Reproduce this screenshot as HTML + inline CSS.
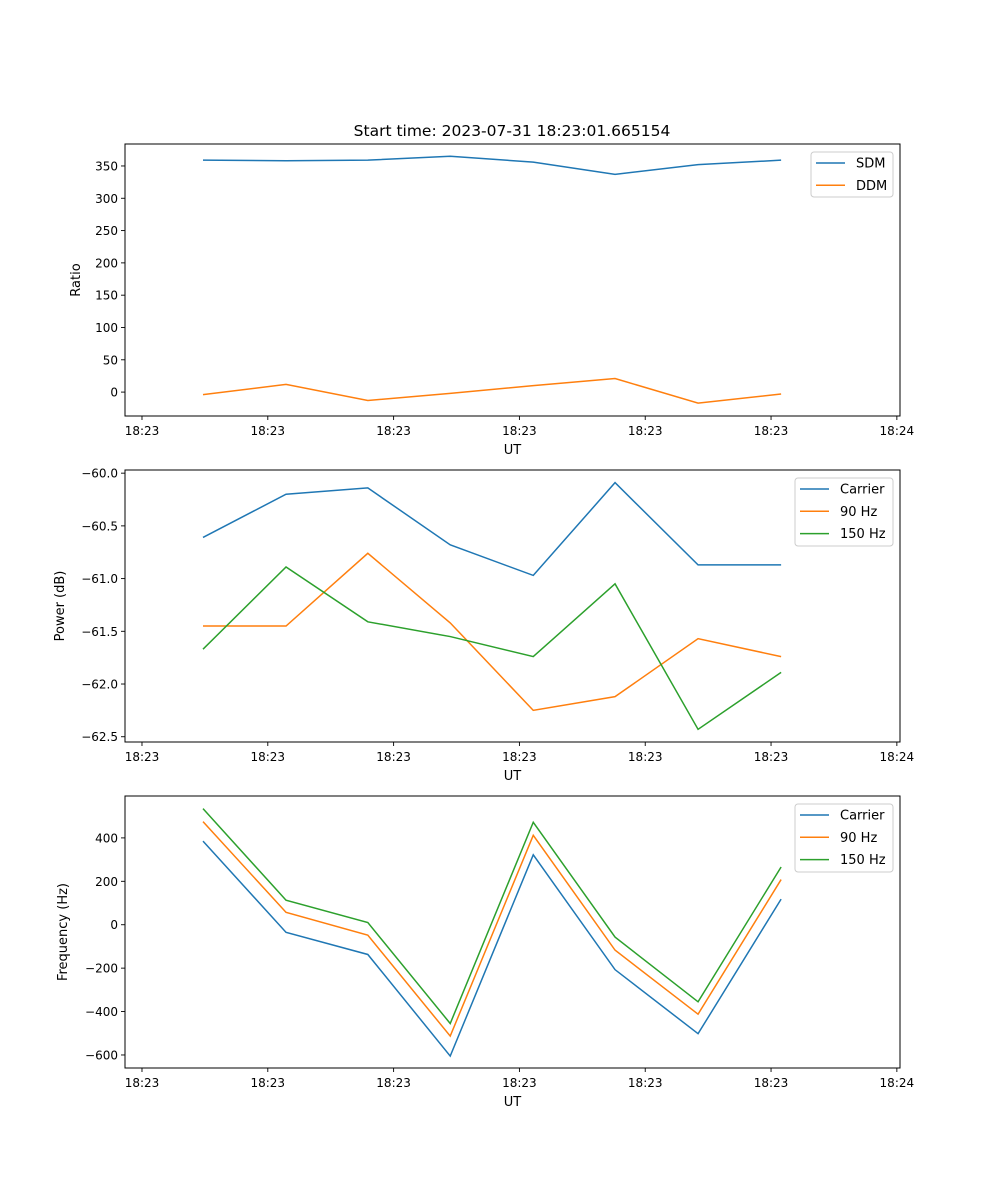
<!DOCTYPE html>
<html><head><meta charset="utf-8">
<style>
html,body{margin:0;padding:0;background:#fff;}
svg{display:block;font-family:"DejaVu Sans","Liberation Sans",sans-serif;}
</style></head>
<body>
<svg id="chart" width="1000" height="1200" viewBox="0 0 1000 1200" xmlns="http://www.w3.org/2000/svg">
<text x="512" y="136" font-size="15.5" text-anchor="middle">Start time: 2023-07-31 18:23:01.665154</text>
</svg>
<script>
// x data (seconds after start), shared by all panels
const times = [0.97, 2.29, 3.59, 4.90, 6.22, 7.52, 8.84, 10.16];
const xTickVals = [0, 2, 4, 6, 8, 10, 12];
const xTickLabels = ["18:23","18:23","18:23","18:23","18:23","18:23","18:24"];

const sdm = [359, 358, 359, 365, 356, 337, 352, 359];
const ddm = [-4, 12, -13, -2, 10, 21, -17, -3];
const ratioTicks = [0, 50, 100, 150, 200, 250, 300, 350];

const powCarrier = [-60.61, -60.20, -60.14, -60.68, -60.97, -60.09, -60.87, -60.87];
const pow90 = [-61.45, -61.45, -60.76, -61.42, -62.25, -62.12, -61.57, -61.74];
const pow150 = [-61.67, -60.89, -61.41, -61.55, -61.74, -61.05, -62.43, -61.89];
const powTicks = [-60.0, -60.5, -61.0, -61.5, -62.0, -62.5];

const freqCarrier = [385, -35, -137, -605, 322, -207, -502, 118];
const freq90 = [475, 57, -48, -513, 412, -117, -412, 208];
const freq150 = [535, 113, 10, -455, 472, -57, -355, 266];
const freqTicks = [-600, -400, -200, 0, 200, 400];

const NS = "http://www.w3.org/2000/svg";
const svg = document.getElementById("chart");
const L = 125, R = 900;
const xMin = -0.27, xMax = 12.05;
function xs(v){ return L + (v - xMin) / (xMax - xMin) * (R - L); }

function el(tag, attrs, parent){
  const e = document.createElementNS(NS, tag);
  for (const k in attrs) e.setAttribute(k, attrs[k]);
  (parent || svg).appendChild(e);
  return e;
}

function panel(cfg){
  const g = el("g", {});
  
  
  const T = cfg.top, B = cfg.bottom;
  const ys = v => B - (v - cfg.yMin) / (cfg.yMax - cfg.yMin) * (B - T);
  // series
  cfg.series.forEach(s => {
    const pts = times.map((t, i) => xs(t).toFixed(2) + "," + ys(s.values[i]).toFixed(2)).join(" ");
    const p = el("polyline", {points: pts, fill: "none", stroke: s.color, "stroke-width": 1.5}, g);
    
    
  });
  // frame
  const f = el("rect", {x: L, y: T, width: R - L, height: B - T, fill: "none", stroke: "#000", "stroke-width": 1}, g);
  
  
  // x ticks
  xTickVals.forEach((v, i) => {
    const x = xs(v);
    el("line", {x1: x, x2: x, y1: B, y2: B + 4, stroke: "#000", "stroke-width": 0.9}, g);
    const t = el("text", {x: x, y: B + 19, "font-size": 12, "text-anchor": "middle"}, g);
    t.textContent = xTickLabels[i];
    
    
  });
  const xl = el("text", {x: (L + R) / 2, y: B + 38, "font-size": 13, "text-anchor": "middle"}, g);
  xl.textContent = "UT";
  
  
  // y ticks
  cfg.ticks.forEach(v => {
    const y = ys(v);
    el("line", {x1: L - 4, x2: L, y1: y, y2: y, stroke: "#000", "stroke-width": 0.9}, g);
    const t = el("text", {x: L - 7, y: y + 4.5, "font-size": 12, "text-anchor": "end"}, g);
    t.textContent = cfg.fmt(v);
    
    
  });
  const yl = el("text", {x: cfg.ylx, y: (T + B) / 2, "font-size": 13, "text-anchor": "middle", transform: `rotate(-90 ${cfg.ylx} ${(T + B) / 2})`}, g);
  yl.textContent = cfg.ylabel;
  
  
  // legend
  const lg = el("g", {}, g);
  
  
  const n = cfg.series.length;
  const lx = cfg.legX, ly = T + 8, lw = R - 7 - lx, lh = 23 * n - 1;
  el("rect", {x: lx, y: ly, width: lw, height: lh, rx: 3, fill: "#fff", "fill-opacity": 0.8, stroke: "#ccc", "stroke-width": 1}, lg);
  cfg.series.forEach((s, i) => {
    const yy = ly + 11 + i * 22.3;
    const e = el("g", {}, lg);
    
    
    el("line", {x1: lx + 5, x2: lx + 34, y1: yy, y2: yy, stroke: s.color, "stroke-width": 1.5}, e);
    const t = el("text", {x: lx + 45, y: yy + 4.5, "font-size": 13}, e);
    t.textContent = s.label;
  });
}

const C0 = "#1f77b4", C1 = "#ff7f0e", C2 = "#2ca02c";
panel({name: "ratio-panel", top: 144, bottom: 416, yMin: -37, yMax: 384, ticks: ratioTicks, fmt: v => String(v),
  ylabel: "Ratio", ylx: 80, legX: 811,
  series: [{id: "sdm", label: "SDM", color: C0, values: sdm}, {id: "ddm", label: "DDM", color: C1, values: ddm}]});
panel({name: "power-panel", top: 470, bottom: 742, yMin: -62.55, yMax: -59.97, ticks: powTicks, fmt: v => v.toFixed(1).replace("-", "\u2212"),
  ylabel: "Power (dB)", ylx: 64, legX: 795,
  series: [{id: "carrier", label: "Carrier", color: C0, values: powCarrier}, {id: "hz90", label: "90 Hz", color: C1, values: pow90}, {id: "hz150", label: "150 Hz", color: C2, values: pow150}]});
panel({name: "frequency-panel", top: 796, bottom: 1068, yMin: -660, yMax: 593, ticks: freqTicks, fmt: v => String(v).replace("-", "\u2212"),
  ylabel: "Frequency (Hz)", ylx: 67, legX: 795,
  series: [{id: "carrier", label: "Carrier", color: C0, values: freqCarrier}, {id: "hz90", label: "90 Hz", color: C1, values: freq90}, {id: "hz150", label: "150 Hz", color: C2, values: freq150}]});
</script>
</body></html>
